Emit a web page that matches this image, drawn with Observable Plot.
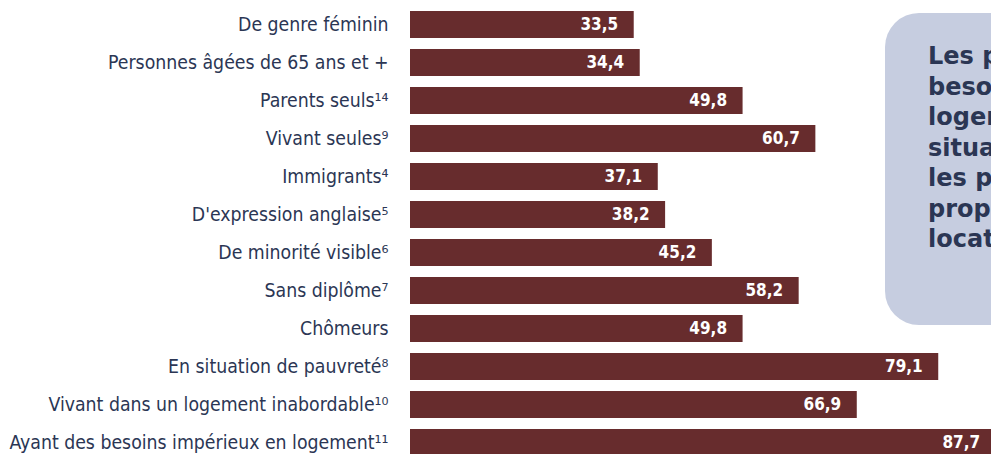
<!DOCTYPE html>
<html>
<head>
<meta charset="utf-8">
<script src="https://cdn.jsdelivr.net/npm/d3@7"></script>
<script src="https://cdn.jsdelivr.net/npm/@observablehq/plot@0.6"></script>
<style>
  html, body { margin: 0; padding: 0; background: #fff; overflow: hidden; width: 991px; height: 454px; }
  #wrap { position: relative; width: 991px; height: 454px; overflow: hidden; }
  #callout {
    position: absolute; left: 885px; top: 13px; width: 220px; height: 312px;
    background: #c6cde0; border-radius: 34px; box-sizing: border-box;
    padding: 28px 0 0 43px; color: #2b3654;
    font-family: "DejaVu Sans", sans-serif; font-weight: bold;
    font-size: 24px; line-height: 30.5px; white-space: nowrap;
  }
</style>
</head>
<body>
<div id="wrap">
  <div id="chart"></div>
  <div id="callout">Les personnes ayant des<br>besoins impérieux en<br>logement ou en<br>situation de pauvreté sont<br>les plus nombreuses en<br>proportion à être<br>locataires.</div>
</div>
<script>
const categories = [
  "De genre féminin",
  "Personnes âgées de 65 ans et +",
  "Parents seuls¹⁴",
  "Vivant seules⁹",
  "Immigrants⁴",
  "D'expression anglaise⁵",
  "De minorité visible⁶",
  "Sans diplôme⁷",
  "Chômeurs",
  "En situation de pauvreté⁸",
  "Vivant dans un logement inabordable¹⁰",
  "Ayant des besoins impérieux en logement¹¹"
];
const values = [33.5, 34.4, 49.8, 60.7, 37.1, 38.2, 45.2, 58.2, 49.8, 79.1, 66.9, 87.7];

const data = categories.map((c, i) => ({category: c, value: values[i]}));
const fmt = v => v.toFixed(1).replace(".", ",");

const chart = Plot.plot({
  width: 991,
  height: 468,
  marginLeft: 410,
  marginRight: 0,
  marginTop: 0,
  marginBottom: 0,
  style: {fontFamily: "'DejaVu Sans Condensed', 'Liberation Sans Narrow', sans-serif", background: "transparent"},
  x: {domain: [0, 87], axis: null},
  y: {domain: categories, padding: 0.28, label: null},
  marks: [
    Plot.barX(data, {x: "value", y: "category", fill: "#672c2d", clip: true}),
    Plot.text(data, {
      x: "value", y: "category", text: d => fmt(d.value),
      textAnchor: "end", dx: -16, fill: "white", fontWeight: "bold", fontSize: 17
    }),
    Plot.axisY({tickSize: 0, tickPadding: 22, fontSize: 19.3, fill: "#2b3654", label: null})
  ]
});
document.getElementById("chart").appendChild(chart);
</script>
</body>
</html>
